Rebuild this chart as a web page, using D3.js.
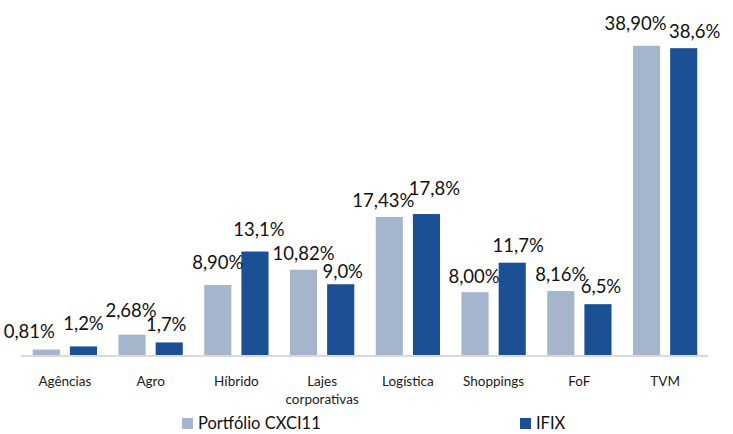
<!DOCTYPE html>
<html>
<head>
<meta charset="utf-8">
<script src="https://cdn.jsdelivr.net/npm/d3@7/dist/d3.min.js"></script>
<style>
  html, body { margin: 0; padding: 0; background: #ffffff; }
  svg { display: block; font-family: Lato, "Open Sans", sans-serif; }
</style>
</head>
<body>
<svg id="chart" width="733" height="434"></svg>
<script>
// ---- data ----
const categories = ["Agências", "Agro", "Híbrido", "Lajes\ncorporativas", "Logística", "Shoppings", "FoF", "TVM"];
const seriesNames = ["Portfólio CXCI11", "IFIX"];
const portfolio = [0.81, 2.68, 8.90, 10.82, 17.43, 8.00, 8.16, 38.90];
const ifix = [1.2, 1.7, 13.1, 9.0, 17.8, 11.7, 6.5, 38.6];
const portfolioLabels = ["0,81%", "2,68%", "8,90%", "10,82%", "17,43%", "8,00%", "8,16%", "38,90%"];
const ifixLabels = ["1,2%", "1,7%", "13,1%", "9,0%", "17,8%", "11,7%", "6,5%", "38,6%"];

// ---- layout (label nudges as placed in the original) ----
const nudgePortfolio = [[-17, -2], [-1, -8], [0, -6], [0, 0], [-6, 0], [-1, 1], [0, 0], [-11, -6]];
const nudgeIfix = [[0, -6], [-3, -1], [4, -6], [2, 4], [8, -9], [6, -1], [3, -1], [11, 0]];
const colors = ["#a5b5cc", "#1b5094"];

const svg = d3.select("#chart");
const baseY = 356;

const x0 = d3.scaleBand().domain(categories).range([22, 708]).paddingInner(0.25).paddingOuter(0.125);
const x1 = d3.scaleBand().domain(seriesNames).range([0, x0.bandwidth()]).paddingInner(0.27).paddingOuter(0);
const y = d3.scaleLinear().domain([0, 40]).range([baseY, 37]);

const series = [
  { name: seriesNames[0], values: portfolio, labels: portfolioLabels, nudge: nudgePortfolio, color: colors[0] },
  { name: seriesNames[1], values: ifix, labels: ifixLabels, nudge: nudgeIfix, color: colors[1] }
];

// bars
series.forEach(s => {
  svg.append("g").selectAll("rect")
    .data(categories.map((c, i) => ({ c, v: s.values[i] })))
    .join("rect")
    .attr("x", d => x0(d.c) + x1(s.name))
    .attr("y", d => y(d.v))
    .attr("width", x1.bandwidth())
    .attr("height", d => baseY - y(d.v))
    .attr("fill", s.color);
});

// axis line
const xAxis = d3.axisBottom(x0).tickSize(0).tickFormat("");
const ax = svg.append("g").attr("transform", `translate(0,${baseY})`).call(xAxis);
ax.select(".domain").attr("stroke", "#d9d9d9").attr("stroke-width", 2)
  .attr("d", `M${x0.range()[0] - 1},0H${x0.range()[1]}`);

// category labels
const catG = svg.append("g");
categories.forEach(c => {
  const lines = c.split("\n");
  const t = catG.append("text")
    .attr("x", x0(c) + x0.bandwidth() / 2)
    .attr("y", 386)
    .attr("text-anchor", "middle")
    .attr("font-size", 13.5)
    .attr("fill", "#1a1a1a");
  lines.forEach((ln, k) => {
    t.append("tspan").attr("x", x0(c) + x0.bandwidth() / 2).attr("dy", k === 0 ? 0 : 18).text(ln);
  });
});

// value labels
series.forEach(s => {
  svg.append("g").selectAll("text")
    .data(categories.map((c, i) => ({ c, v: s.values[i], l: s.labels[i], n: s.nudge[i] })))
    .join("text")
    .attr("x", d => x0(d.c) + x1(s.name) + x1.bandwidth() / 2 + d.n[0])
    .attr("y", d => y(d.v) - 10 + d.n[1])
    .attr("text-anchor", "middle")
    .attr("font-size", 18.5)
    .attr("fill", "#111111")
    .text(d => d.l);
});

// legend
const legendX = [182, 520];
const lg = svg.append("g");
series.forEach((s, i) => {
  lg.append("rect").attr("x", legendX[i]).attr("y", 418).attr("width", 11).attr("height", 11).attr("fill", s.color);
  lg.append("text").attr("x", legendX[i] + 16).attr("y", 429)
    .attr("font-size", 16.5).attr("fill", "#111111").text(s.name);
});
</script>
</body>
</html>
